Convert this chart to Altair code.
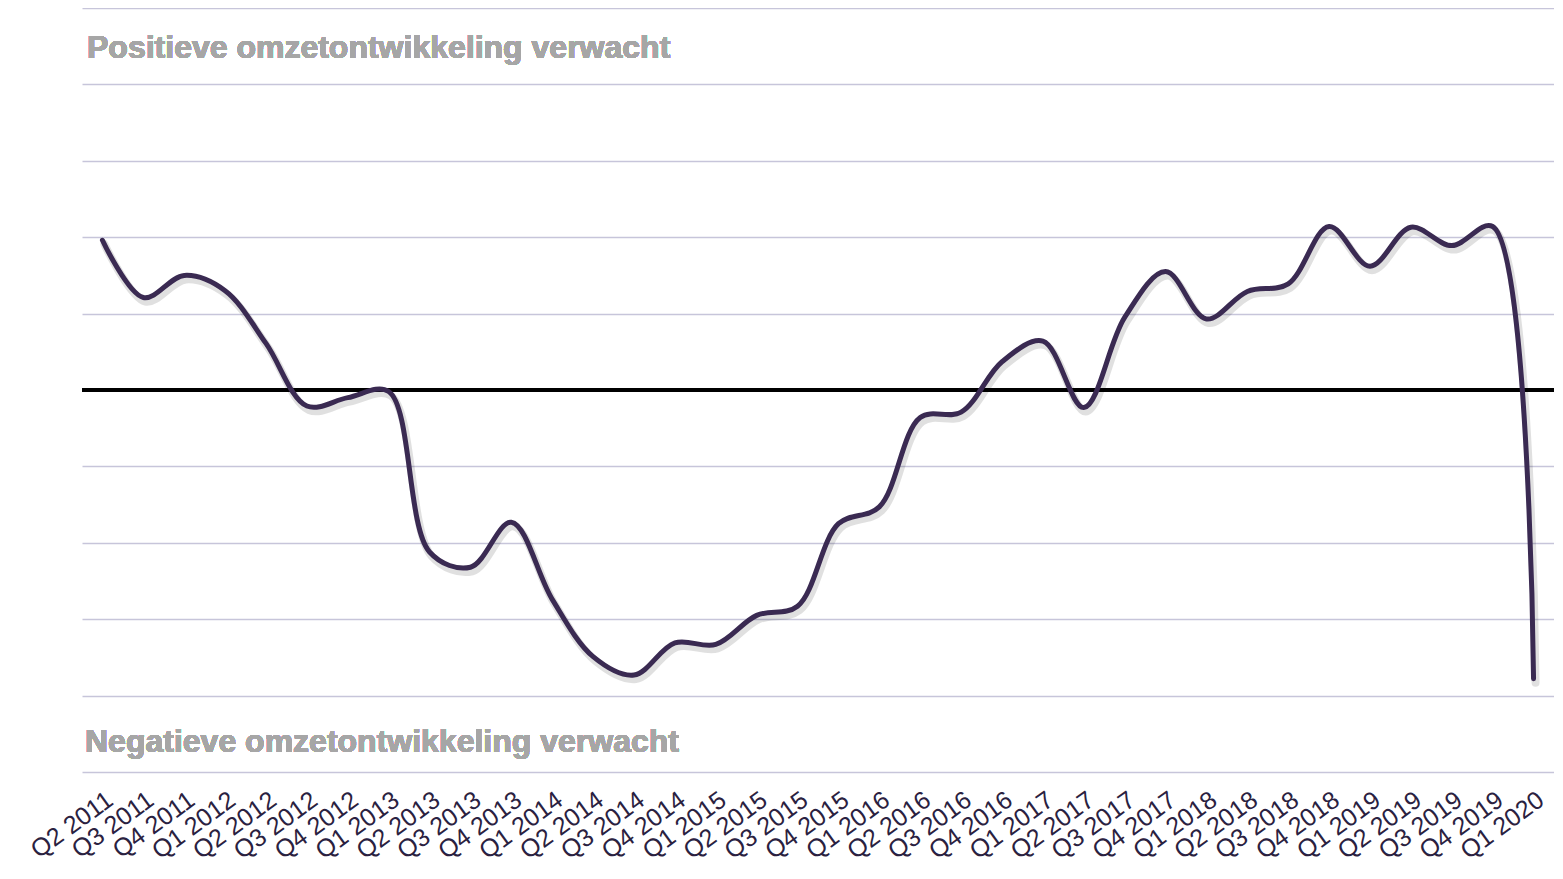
import altair as alt
import pandas as pd

quarters = [
    "Q2 2011", "Q3 2011", "Q4 2011",
    "Q1 2012", "Q2 2012", "Q3 2012", "Q4 2012",
    "Q1 2013", "Q2 2013", "Q3 2013", "Q4 2013",
    "Q1 2014", "Q2 2014", "Q3 2014", "Q4 2014",
    "Q1 2015", "Q2 2015", "Q3 2015", "Q4 2015",
    "Q1 2016", "Q2 2016", "Q3 2016", "Q4 2016",
    "Q1 2017", "Q2 2017", "Q3 2017", "Q4 2017",
    "Q1 2018", "Q2 2018", "Q3 2018", "Q4 2018",
    "Q1 2019", "Q2 2019", "Q3 2019", "Q4 2019",
    "Q1 2020",
]
values = [
    19.6, 12.1, 15.0,
    13.0, 6.1, -2.1, -1.0,
    -0.2, -21.2, -23.2, -17.3,
    -27.4, -34.9, -37.3, -33.1,
    -33.3, -29.5, -28.3, -17.5,
    -15.3, -3.6, -2.9, 3.7,
    6.4, -2.3, 9.5, 15.5,
    9.3, 12.9, 13.9, 21.4,
    16.2, 21.3, 18.9, 21.4,
    -37.8,
]
grid_values = [-50, -40, -30, -20, -10, 0, 10, 20, 30, 40, 50]
label_top = "Positieve omzetontwikkeling verwacht"
label_bottom = "Negatieve omzetontwikkeling verwacht"

df = pd.DataFrame({"kwartaal": quarters, "waarde": values})

x_enc = alt.X(
    "kwartaal:N",
    sort=quarters,
    scale=alt.Scale(type="point", padding=0.5),
    axis=alt.Axis(
        title=None,
        labelAngle=-36,
        labelAlign="right",
        labelBaseline="top",
        labelFont="Liberation Sans",
        labelFontSize=25,
        labelColor="#2a2140",
        labelPadding=15,
        labelOverlap=False,
        labelFlush=False,
        ticks=False,
        tickSize=0,
        domain=False,
        grid=False,
    ),
)
y_enc = alt.Y(
    "waarde:Q",
    scale=alt.Scale(domain=[-50, 50], nice=False, zero=False),
    axis=alt.Axis(
        title=None,
        values=grid_values,
        labels=False,
        ticks=False,
        domain=False,
        grid=True,
        gridColor="#c7c5da",
        gridWidth=1.5,
    ),
)

base = alt.Chart(df)

shadow = base.mark_line(
    interpolate="catmull-rom",
    color="#000000",
    opacity=0.12,
    strokeWidth=8,
    xOffset=2,
    yOffset=4,
    strokeCap="round",
).encode(x=x_enc, y=y_enc)

zero_rule = alt.Chart(df).mark_rule(color="#000000", strokeWidth=4).encode(
    y=alt.datum(0)
)

line = base.mark_line(
    interpolate="catmull-rom",
    color="#3a2a52",
    strokeWidth=5,
    strokeCap="round",
    strokeJoin="round",
).encode(x=x_enc, y=y_enc)

txt_style = dict(
    align="left",
    baseline="alphabetic",
    font="Liberation Sans",
    fontWeight="bold",
    fontSize=32,
    color="#a6a6a6",
)
top_text = alt.Chart(df).mark_text(**txt_style).encode(
    x=alt.value(5), y=alt.datum(43.5), text=alt.value(label_top)
)
bottom_text = alt.Chart(df).mark_text(**txt_style).encode(
    x=alt.value(3), y=alt.datum(-47.4), text=alt.value(label_bottom)
)

chart = (
    alt.layer(shadow, zero_rule, line, top_text, bottom_text)
    .properties(
        width=1472,
        height=764,
        padding={"left": 74, "top": 0, "right": 0, "bottom": 96},
        autosize=alt.AutoSizeParams(type="none"),
    )
    .configure_view(stroke=None)
)

chart.save("out.html", embed_options={"renderer": "svg", "actions": False})
